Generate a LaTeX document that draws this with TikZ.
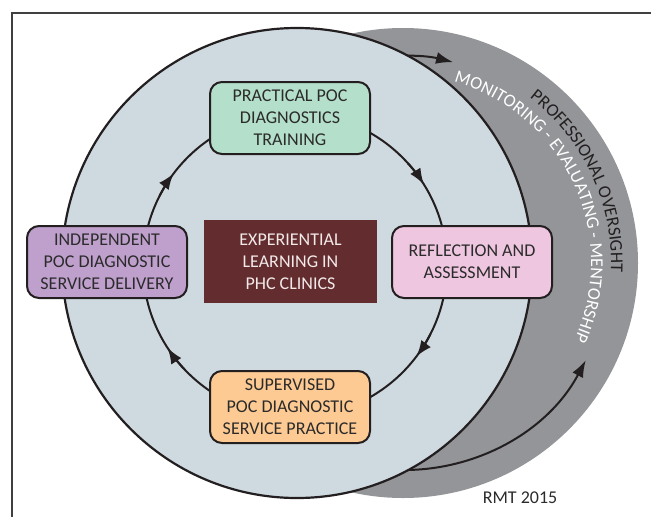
\documentclass[tikz,border=0pt]{standalone}
\usepackage{fontspec}
\setmainfont{Carlito}
\usetikzlibrary{arrows.meta,decorations.text}
\definecolor{bandgray}{HTML}{939598}
\definecolor{lightdisc}{HTML}{CFDAE0}
\definecolor{greenbox}{HTML}{B4DFCA}
\definecolor{pinkbox}{HTML}{EEC6DF}
\definecolor{purplebox}{HTML}{BFA0CD}
\definecolor{orangebox}{HTML}{FDCA93}
\definecolor{maroonbox}{HTML}{632D2F}
\definecolor{inkdark}{HTML}{231F20}
\definecolor{textdark}{HTML}{2B2B2B}
\definecolor{paletext}{HTML}{F3E9E9}
\definecolor{framegray}{HTML}{404040}
\newcommand{\labelfont}{\fontsize{18}{22}\selectfont}
\begin{document}
\begin{tikzpicture}[x=1pt,y=-1pt,
  stagebox/.style={draw=inkdark, line width=2pt, rounded corners=12pt,
    minimum width=160pt, minimum height=72pt, align=center,
    text=textdark, font=\labelfont, inner sep=0pt},
  cycleline/.style={draw=inkdark, line width=2pt},
  cyclearrow/.style={cycleline, -{Latex[length=16pt,width=12pt]}},
  outerarrow/.style={cycleline, -{Latex[length=17pt,width=12pt]}},
  bandtext/.style={decorate, decoration={text along path, text align=center, text={#1}}},
]
\useasboundingbox (0,0) rectangle (651,517);
% frame
\draw[framegray, line width=1.2pt] (651,13) -- (12,13) -- (12,517);
% grey oversight band
\coordinate (oc) at (403,263);
\fill[bandgray] (oc) circle[radius=235];
\draw[outerarrow] ([shift={(-100:207)}]oc) arc[start angle=-100, end angle=-76, radius=207];
\draw[outerarrow] ([shift={(100:207)}]oc) arc[start angle=100, end angle=28, radius=207];
\path[bandtext={|\labelfont\color{inkdark}|PROFESSIONAL OVERSIGHT}]
  ([shift={(-95:208)}]oc) arc[start angle=-95, end angle=45, radius=208];
\path[bandtext={|\labelfont\color{white}|MONITORING - EVALUATING - MENTORSHIP}]
  ([shift={(-95:188)}]oc) arc[start angle=-95, end angle=45, radius=188];
% light disc
\draw[fill=lightdisc, draw=inkdark, line width=2.2pt] (297,263) circle[radius=235];
% inner cycle
\coordinate (ic) at (295,265);
\draw[cycleline] (ic) circle[radius=152];
\draw[cyclearrow] ([shift={(-153:152)}]ic) arc[start angle=-153, end angle=-143, radius=152];
\draw[cyclearrow] ([shift={(-42:152)}]ic) arc[start angle=-42, end angle=-32, radius=152];
\draw[cyclearrow] ([shift={(27:152)}]ic) arc[start angle=27, end angle=37, radius=152];
\draw[cyclearrow] ([shift={(137:152)}]ic) arc[start angle=137, end angle=147, radius=152];
% stages
\node[stagebox, fill=greenbox] (train) at (290,118) {PRACTICAL POC\\DIAGNOSTICS\\TRAINING};
\node[stagebox, fill=pinkbox] (reflect) at (472,262) {REFLECTION AND\\ASSESSMENT};
\node[stagebox, fill=purplebox] (indep) at (107,262) {INDEPENDENT\\POC DIAGNOSTIC\\SERVICE DELIVERY};
\node[stagebox, fill=orangebox] (superv) at (290,407) {SUPERVISED\\POC DIAGNOSTIC\\SERVICE PRACTICE};
\node[fill=maroonbox, minimum width=173pt, minimum height=83pt, inner sep=0pt,
  align=center, text=paletext, font=\labelfont] (core) at (290.5,261.5)
  {EXPERIENTIAL\\LEARNING IN\\PHC CLINICS};
\node[text=textdark, font=\labelfont, inner sep=0pt] (credit) at (520,498) {RMT 2015};
\end{tikzpicture}
\end{document}
